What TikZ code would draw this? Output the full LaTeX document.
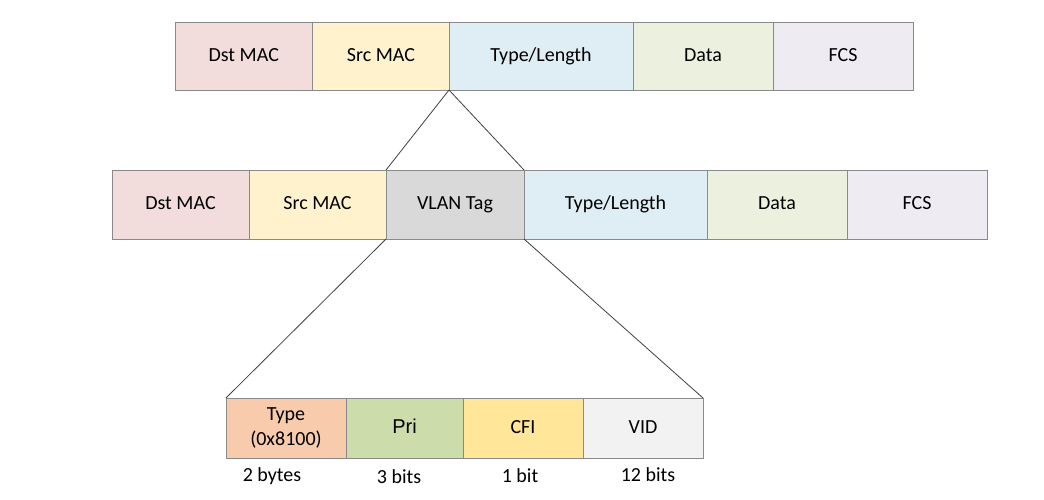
\documentclass[tikz,border=0pt]{standalone}
\usepackage{fontspec}
\setmainfont{Carlito}
\newfontfamily\arialf{Liberation Sans}
\definecolor{cdst}{HTML}{F2DDDC}
\definecolor{csrc}{HTML}{FFF2CC}
\definecolor{ctyp}{HTML}{DEEEF4}
\definecolor{cdata}{HTML}{EBF1DE}
\definecolor{cfcs}{HTML}{EEECF2}
\definecolor{cvlan}{HTML}{D9D9D9}
\definecolor{ct81}{HTML}{F8CBAD}
\definecolor{cpri}{HTML}{CCDCAB}
\definecolor{ccfi}{HTML}{FFE699}
\definecolor{cvid}{HTML}{F2F2F2}
\definecolor{cedge}{HTML}{8A8A8A}
\definecolor{cline}{HTML}{404040}
\begin{document}
\begin{tikzpicture}[x=1pt,y=-1pt,
  fieldbase/.style={draw=cedge,line width=1pt,inner sep=0pt,outer sep=0pt,
    align=center,font=\fontsize{20}{25}\selectfont,text=black},
  field/.style={fieldbase,text height=14pt,text depth=4pt},
  r1/.style={field,minimum height=68pt},
  r2/.style={field,minimum height=69pt},
  r3/.style={field,minimum height=60pt},
  lbl/.style={font=\fontsize{20}{24}\selectfont,inner sep=0pt},
  zoomline/.style={draw=cline,line width=0.8pt}]
\useasboundingbox (0,0) rectangle (1044,499);
% row 1
\node[r1,fill=cdst,minimum width=137.5pt] (a1) at (243.75,56) {Dst MAC};
\node[r1,fill=csrc,minimum width=136.5pt] (a2) at (381,56) {Src MAC};
\node[r1,fill=ctyp,minimum width=184pt] (a3) at (541,56) {Type/Length};
\node[r1,fill=cdata,minimum width=140pt] (a4) at (703,56) {Data};
\node[r1,fill=cfcs,minimum width=140pt] (a5) at (843,56) {FCS};
% row 2
\node[r2,fill=cdst,minimum width=137pt] (b1) at (180.5,204.5) {Dst MAC};
\node[r2,fill=csrc,minimum width=137pt] (b2) at (317.5,204.5) {Src MAC};
\node[r2,fill=cvlan,minimum width=138pt] (b3) at (455,204.5) {VLAN Tag};
\node[r2,fill=ctyp,minimum width=183pt] (b4) at (615.5,204.5) {Type/Length};
\node[r2,fill=cdata,minimum width=140pt] (b5) at (777,204.5) {Data};
\node[r2,fill=cfcs,minimum width=140pt] (b6) at (917,204.5) {FCS};
% row 3
\node[fieldbase,minimum height=60pt,fill=ct81,minimum width=120pt] (c1) at (286,428) {Type\\(0x8100)};
\node[r3,fill=cpri,minimum width=117pt,font=\arialf\fontsize{20}{24}\selectfont] (c2) at (404.5,428) {Pri};
\node[r3,fill=ccfi,minimum width=120pt] (c3) at (523,428) {CFI};
\node[r3,fill=cvid,minimum width=120pt] (c4) at (643,428) {VID};
% size labels
\node[lbl] (l1) at (272,476) {2 bytes};
\node[lbl] (l2) at (399,477) {3 bits};
\node[lbl] (l3) at (520,476) {1 bit};
\node[lbl] (l4) at (648,475) {12 bits};
% zoom lines
\draw[zoomline] (a3.south west) -- (b3.north west);
\draw[zoomline] (a3.south west) -- (b3.north east);
\draw[zoomline] (b3.south west) -- (c1.north west);
\draw[zoomline] (b3.south east) -- (c4.north east);
\end{tikzpicture}
\end{document}
